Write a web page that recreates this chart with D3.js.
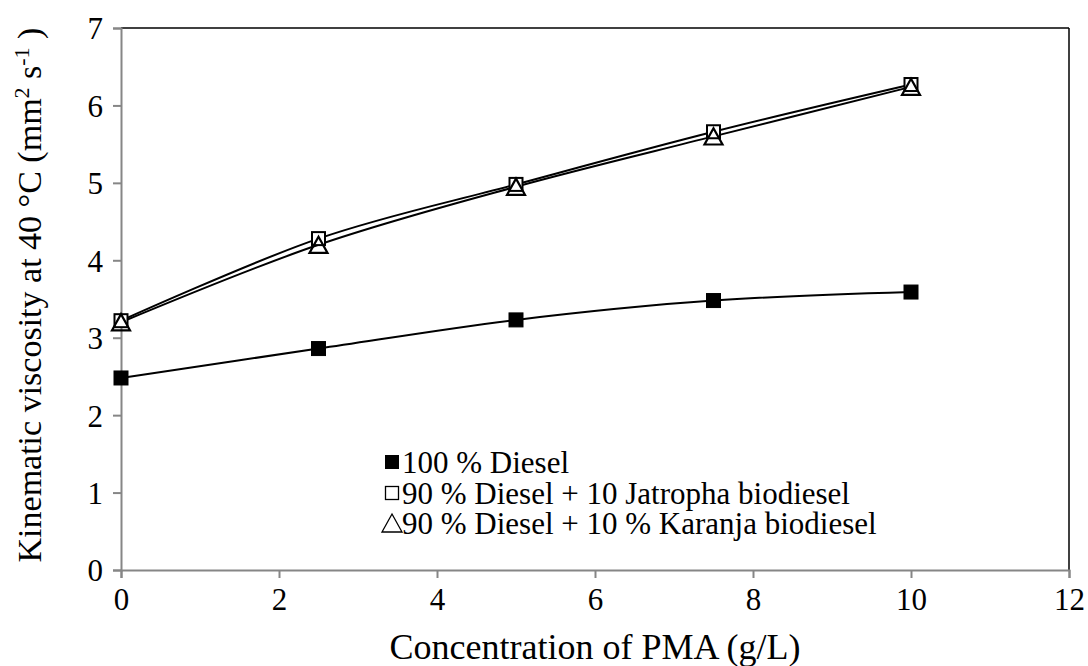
<!DOCTYPE html>
<html>
<head>
<meta charset="utf-8">
<script src="https://cdn.jsdelivr.net/npm/d3@7"></script>
<style>
  body { margin: 0; background: #fff; }
</style>
</head>
<body>
<div id="chart"></div>
<script>
const concentration = [0, 2.5, 5, 7.5, 10];
const diesel = [2.48, 2.86, 3.23, 3.48, 3.59];
const jatropha = [3.22, 4.28, 4.98, 5.66, 6.27];
const karanja = [3.2, 4.2, 4.95, 5.6, 6.24];
const xTicks = [0, 2, 4, 6, 8, 10, 12];
const yTicks = [0, 1, 2, 3, 4, 5, 6, 7];
const seriesNames = [
  "100 % Diesel",
  "90 % Diesel + 10 Jatropha biodiesel",
  "90 % Diesel + 10 % Karanja biodiesel"
];

let w = 1088;
let h = 666;
let marginTop = 28;
let marginRight = 19;
let marginBottom = 96;
let marginLeft = 121;
let axisGrey = "#868686";
let fontSize = 31;
let serif = "Liberation Serif, Times New Roman, serif";

let x = d3.scaleLinear().domain([0, 12]).range([marginLeft, w - marginRight]);
let y = d3.scaleLinear().domain([0, 7]).range([h - marginBottom, marginTop]);

let svg = d3.select("#chart").append("svg")
  .attr("width", w).attr("height", h)
  .attr("font-family", serif);

// top and right frame lines are black, the axes are grey
svg.append("line")
  .attr("x1", x(0)).attr("x2", x(12))
  .attr("y1", y(7)).attr("y2", y(7))
  .attr("stroke", "#000").attr("stroke-width", 1.5);
svg.append("line")
  .attr("x1", x(12)).attr("x2", x(12))
  .attr("y1", y(7)).attr("y2", y(0))
  .attr("stroke", "#000").attr("stroke-width", 1.5);

let xAxis = svg.append("g")
  .attr("transform", `translate(0,${y(0)})`)
  .call(d3.axisBottom(x).tickValues(xTicks).tickSize(8).tickPadding(10).tickFormat(d3.format("d")));
let yAxis = svg.append("g")
  .attr("transform", `translate(${x(0)},0)`)
  .call(d3.axisLeft(y).tickValues(yTicks).tickSize(8).tickPadding(10).tickFormat(d3.format("d")));

[xAxis, yAxis].forEach(function (g) {
  g.attr("font-family", serif).attr("font-size", fontSize);
  g.select(".domain").attr("stroke", axisGrey).attr("stroke-width", 2);
  g.selectAll(".tick line").attr("stroke", axisGrey).attr("stroke-width", 2);
  g.selectAll(".tick text").attr("fill", "#000");
});
yAxis.selectAll(".tick text").attr("dy", "0.35em");

// axis titles
svg.append("text")
  .attr("x", (x(0) + x(12)) / 2)
  .attr("y", 659)
  .attr("text-anchor", "middle")
  .attr("font-family", serif)
  .attr("font-size", 36)
  .text("Concentration of PMA (g/L)");

let yTitle = svg.append("text")
  .attr("transform", `translate(41,295) rotate(-90)`)
  .attr("text-anchor", "middle")
  .attr("font-family", serif)
  .attr("font-size", 34);
yTitle.append("tspan").text("Kinematic viscosity at 40 °C (mm");
yTitle.append("tspan").attr("dy", -12).attr("font-size", 22).text("2");
yTitle.append("tspan").attr("dy", 12).text(" s");
yTitle.append("tspan").attr("dy", -12).attr("font-size", 22).text("-1");
yTitle.append("tspan").attr("dy", 12).text(" )");

// smoothed lines
let line = d3.line()
  .x(function (d) { return x(d[0]); })
  .y(function (d) { return y(d[1]); })
  .curve(d3.curveCatmullRom.alpha(0));

[diesel, jatropha, karanja].forEach(function (vals) {
  svg.append("path")
    .datum(concentration.map(function (c, i) { return [c, vals[i]]; }))
    .attr("d", line)
    .attr("fill", "none")
    .attr("stroke", "#000")
    .attr("stroke-width", 2);
});

function drawSquare(g, cx, cy, size, filled, sw) {
  g.append("rect")
    .attr("x", cx - size / 2).attr("y", cy - size / 2)
    .attr("width", size).attr("height", size)
    .attr("fill", filled ? "#000" : "#fff")
    .attr("stroke", "#000")
    .attr("stroke-width", sw);
}
function drawTriangle(g, cx, cy, size, sw) {
  let hh = size * 0.9;
  g.append("path")
    .attr("d", `M${cx},${cy - hh / 2}L${cx + size / 2},${cy + hh / 2}L${cx - size / 2},${cy + hh / 2}Z`)
    .attr("fill", "none")
    .attr("stroke", "#000")
    .attr("stroke-width", sw);
}

let markers = svg.append("g");
concentration.forEach(function (c, i) {
  drawSquare(markers, x(c), y(diesel[i]), 14, true, 1);
  drawSquare(markers, x(c), y(jatropha[i]), 13, false, 2);
  drawTriangle(markers, x(c), y(karanja[i]), 18, 2.2);
});

// legend
let legend = svg.append("g").attr("font-family", serif).attr("font-size", fontSize);
let legendY = [462, 493, 523];
let legendX = 392;
drawSquare(legend, legendX, legendY[0], 14, true, 0);
drawSquare(legend, legendX, legendY[1], 13, false, 1.3);
legend.append("path")
  .attr("d", `M${legendX},${legendY[2] - 9}L${legendX + 10},${legendY[2] + 9}L${legendX - 10},${legendY[2] + 9}Z`)
  .attr("fill", "none").attr("stroke", "#000").attr("stroke-width", 1.3);

seriesNames.forEach(function (name, i) {
  legend.append("text")
    .attr("x", 402)
    .attr("y", legendY[i])
    .attr("dy", "0.35em")
    .text(name);
});
</script>
</body>
</html>
